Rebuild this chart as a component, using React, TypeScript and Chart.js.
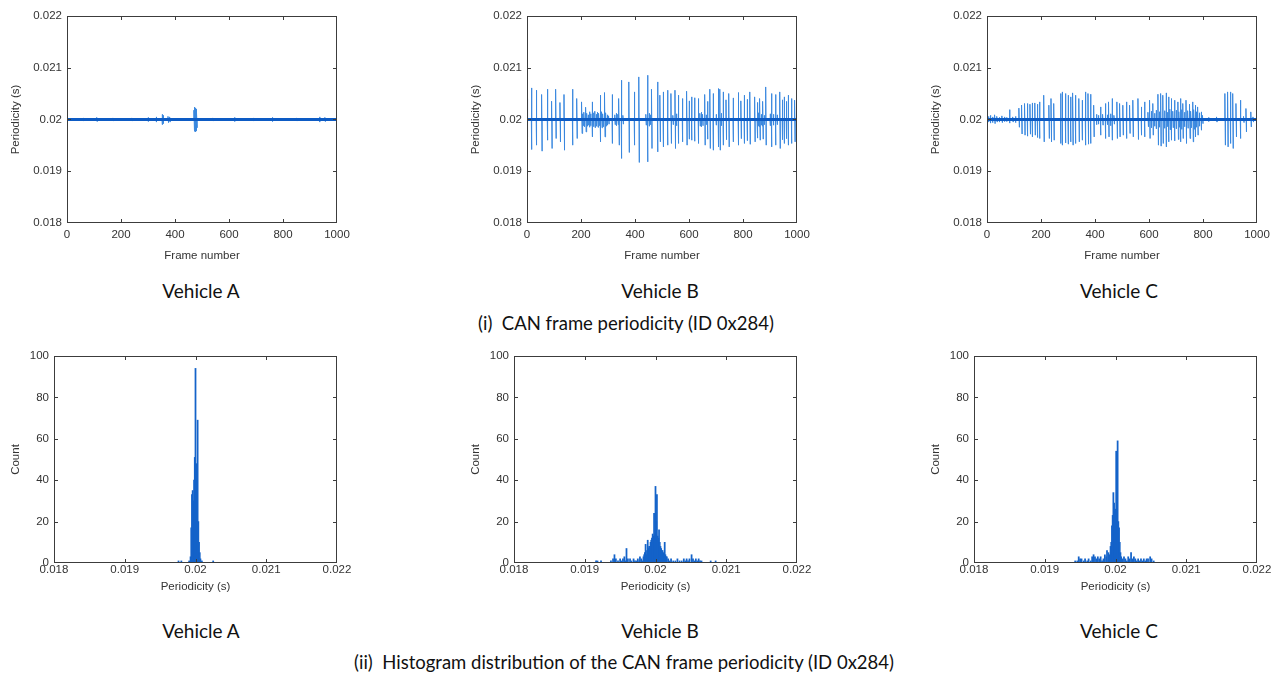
import React, { useEffect, useRef } from 'react';
import { Chart, registerables } from 'chart.js';

Chart.register(...registerables);

// ---------- labels ----------
const vehicleNames = ['Vehicle A', 'Vehicle B', 'Vehicle C'];
const captionTop = '(i)  CAN frame periodicity (ID 0x284)';
const captionBottom = '(ii)  Histogram distribution of the CAN frame periodicity (ID 0x284)';
const frameTickLabels = ['0', '200', '400', '600', '800', '1000'];
const periodTickLabels = ['0.018', '0.019', '0.02', '0.021', '0.022'];
const countTickLabels = ['0', '20', '40', '60', '80', '100'];
const NOMINAL = 0.02;

// ---------- Vehicle A periodicity (frame, high, low) ----------
const aFrames = [60, 110, 170, 240, 300, 330, 352, 356, 374, 380, 470, 472, 475, 478, 480, 540, 620, 690, 760, 850, 935, 955];
const aHigh = [0.02003, 0.02004, 0.02003, 0.02003, 0.02004, 0.02005, 0.0201, 0.02008, 0.02006, 0.02005, 0.02018, 0.02024, 0.02022, 0.0202, 0.02014, 0.02003, 0.02004, 0.02003, 0.02004, 0.02003, 0.02005, 0.02004];
const aLow = [0.01997, 0.01996, 0.01997, 0.01997, 0.01996, 0.01995, 0.0199, 0.01992, 0.01994, 0.01995, 0.0198, 0.01977, 0.01976, 0.01978, 0.01984, 0.01997, 0.01996, 0.01997, 0.01996, 0.01997, 0.01995, 0.01996];

// ---------- Vehicle B periodicity ----------
const bFrames = [1, 16, 34, 54, 75, 91, 106, 122, 137, 168, 184, 202, 217, 241, 271, 287, 315, 340, 349, 377, 397, 414, 446, 461, 483,
  492, 504, 520, 533, 548, 560, 575, 591, 600, 609, 620, 634, 658, 668, 677, 689, 708, 714, 726, 737, 747, 763, 782, 792, 804, 815, 825, 843, 852, 862, 873, 884, 905, 920, 936, 945, 952, 960, 967, 979, 991, 997];
const bHigh = [0.020405, 0.02061, 0.020566, 0.020483, 0.020585, 0.020353, 0.020585, 0.020328, 0.020483, 0.020585, 0.020405, 0.02034, 0.020237, 0.02034, 0.02047, 0.020521, 0.020483, 0.020405, 0.020759, 0.020726, 0.020533, 0.020823, 0.020855, 0.020585, 0.020726,
  0.02047, 0.020533, 0.020566, 0.020502, 0.020566, 0.02047, 0.020405, 0.020546, 0.02036, 0.020437, 0.02042, 0.020405, 0.020483, 0.02035, 0.020585, 0.020502, 0.020598, 0.020585, 0.020533, 0.02038, 0.020502, 0.020417, 0.020521, 0.02036, 0.02047, 0.02039, 0.020533, 0.020437, 0.02033, 0.020405, 0.02035, 0.020629, 0.020502, 0.020483, 0.020533, 0.02038, 0.020437, 0.02035, 0.02047, 0.020405, 0.020373, 0.02047];
const bLow = [0.019664, 0.01942, 0.019504, 0.019388, 0.0196, 0.01944, 0.019633, 0.019568, 0.019407, 0.019504, 0.019633, 0.01973, 0.01976, 0.019664, 0.019568, 0.019664, 0.019537, 0.019504, 0.019247, 0.019363, 0.019504, 0.01917, 0.019182, 0.01944, 0.019375,
  0.019568, 0.019471, 0.019504, 0.019537, 0.01944, 0.019537, 0.019568, 0.019504, 0.01962, 0.0196, 0.01958, 0.019537, 0.019504, 0.01962, 0.01944, 0.019407, 0.019471, 0.019407, 0.019504, 0.01961, 0.019471, 0.019568, 0.019504, 0.01963, 0.019537, 0.01959, 0.019521, 0.019568, 0.01964, 0.0196, 0.01962, 0.019504, 0.019471, 0.019504, 0.01944, 0.01961, 0.019537, 0.01963, 0.019504, 0.019537, 0.019568, 0.0196];
const bNoiseFrames = [207, 211, 222, 226, 231, 235, 246, 251, 256, 261, 266, 276, 281, 292, 297, 302, 325, 330, 336, 355, 440, 452, 456, 540, 553, 640, 645, 650, 663, 700, 719, 855, 858, 867, 871, 878, 900, 912, 926];
const bNoiseHigh = [0.02011, 0.02014, 0.02012, 0.02009, 0.02015, 0.02011, 0.02013, 0.02016, 0.0201, 0.02014, 0.02012, 0.02015, 0.02011, 0.02013, 0.02009, 0.02007, 0.02009, 0.02012, 0.0201, 0.02008, 0.0201, 0.02012, 0.02009, 0.02008, 0.02011, 0.02012, 0.02014, 0.0201, 0.02009, 0.0201, 0.02012, 0.02011, 0.02013, 0.0201, 0.02012, 0.02008, 0.02011, 0.0201, 0.02009];
const bNoiseLow = [0.01988, 0.01986, 0.01987, 0.01989, 0.01985, 0.01988, 0.01986, 0.01984, 0.01987, 0.01985, 0.01988, 0.01984, 0.01986, 0.01987, 0.01989, 0.01991, 0.0199, 0.01988, 0.0199, 0.01991, 0.01989, 0.01987, 0.0199, 0.0199, 0.01988, 0.01987, 0.01986, 0.01988, 0.0199, 0.01989, 0.01988, 0.01988, 0.01986, 0.01989, 0.01987, 0.0199, 0.01988, 0.01989, 0.0199];

// ---------- Vehicle C periodicity ----------
const cFrames = [118, 128, 139, 149, 159, 167, 177, 186, 194, 210, 229, 237, 247, 272, 278, 290, 300, 309, 317, 327, 340, 352, 364, 374, 383, 395, 420, 438, 450, 463, 481,
  491, 503, 516, 528, 540, 559, 571, 583, 602, 614, 633, 643, 651, 663, 672, 682, 694, 707, 716, 725, 737, 750, 762, 771, 780, 793, 881, 891, 901, 910, 922, 938, 959, 977];
const cHigh = [0.02022, 0.02028, 0.020309, 0.020309, 0.020295, 0.02032, 0.02032, 0.020295, 0.02034, 0.020469, 0.020276, 0.020405, 0.020309, 0.020502, 0.020533, 0.020502, 0.020469, 0.020437, 0.020514, 0.020469, 0.020405, 0.020373, 0.020533, 0.020502, 0.020488, 0.020276, 0.020243, 0.020309, 0.02034, 0.020405, 0.02034,
  0.020309, 0.020276, 0.02034, 0.020276, 0.020373, 0.020405, 0.020243, 0.02034, 0.020373, 0.020309, 0.020488, 0.020502, 0.020469, 0.020514, 0.020437, 0.020405, 0.020373, 0.02034, 0.020405, 0.020309, 0.020373, 0.020295, 0.02034, 0.020276, 0.020243, 0.020147, 0.020502, 0.020533, 0.020533, 0.020502, 0.020309, 0.020373, 0.020212, 0.020147];
const cLow = [0.01985, 0.01972, 0.019697, 0.019678, 0.019716, 0.019664, 0.019697, 0.019652, 0.019633, 0.019568, 0.019633, 0.019568, 0.0196, 0.019537, 0.019504, 0.019548, 0.019523, 0.019568, 0.019504, 0.019537, 0.019568, 0.0196, 0.019504, 0.019523, 0.019537, 0.019664, 0.019697, 0.019633, 0.019664, 0.0196, 0.019633,
  0.019664, 0.019697, 0.019633, 0.01973, 0.019664, 0.019614, 0.019697, 0.019664, 0.019633, 0.019697, 0.019504, 0.019485, 0.019537, 0.019471, 0.019568, 0.0196, 0.019587, 0.019614, 0.019568, 0.019633, 0.019537, 0.019633, 0.019568, 0.019664, 0.019697, 0.019793, 0.019504, 0.019471, 0.019537, 0.01944, 0.019664, 0.019633, 0.019761, 0.019857];
const cNoiseFrames = [5, 12, 20, 28, 36, 45, 55, 64, 72, 83, 95, 105, 405, 412, 428, 445, 457, 470, 596, 608, 620, 626, 638, 657, 668, 677, 688, 700, 711, 720, 731, 743, 755, 766, 775, 786, 798, 820, 850, 950, 985];
const cNoiseHigh = [0.02006, 0.02008, 0.02005, 0.02009, 0.02006, 0.02004, 0.02007, 0.02005, 0.02004, 0.02019, 0.02005, 0.02006, 0.0201, 0.02008, 0.0201, 0.02009, 0.02011, 0.02008, 0.02014, 0.02016, 0.02012, 0.02018, 0.02015, 0.02017, 0.02014, 0.0202, 0.02016, 0.02018, 0.02015, 0.02019, 0.02014, 0.02017, 0.02016, 0.02019, 0.02015, 0.02013, 0.02008, 0.02004, 0.02005, 0.02006, 0.02005];
const cNoiseLow = [0.01995, 0.01993, 0.01994, 0.01992, 0.01995, 0.01995, 0.01994, 0.01996, 0.01996, 0.01993, 0.01995, 0.01994, 0.0199, 0.01991, 0.01989, 0.0199, 0.01988, 0.01991, 0.01986, 0.01984, 0.01987, 0.01982, 0.01985, 0.01983, 0.01986, 0.0198, 0.01984, 0.01982, 0.01985, 0.01981, 0.01986, 0.01983, 0.01984, 0.01981, 0.01985, 0.01987, 0.01992, 0.01996, 0.01995, 0.01994, 0.01995];

// ---------- Histograms (bin centre in s, count) ----------
const aHistBins = [0.01976, 0.0198, 0.01991, 0.01993, 0.01994, 0.01995, 0.01996, 0.01997, 0.01998, 0.01999, 0.02, 0.02001, 0.02002, 0.02003, 0.02004, 0.02005, 0.02006, 0.02007, 0.02009, 0.02025];
const aHistCounts = [1, 1, 1, 3, 17, 33, 35, 30, 40, 51, 94, 48, 45, 69, 20, 10, 5, 2, 1, 1];

const bHistBins = [0.01916, 0.01918, 0.01923, 0.01937, 0.0194, 0.01942, 0.01944, 0.01947, 0.0195, 0.01952, 0.01954, 0.01956, 0.01958, 0.01959, 0.01961, 0.01964, 0.01966, 0.01969, 0.01971, 0.01973, 0.01975, 0.01977, 0.01978, 0.0198, 0.01982, 0.01983, 0.01984, 0.01985, 0.01986, 0.01987, 0.01988, 0.01989, 0.0199, 0.01991, 0.01992, 0.01993, 0.01994, 0.01995, 0.01996, 0.01997, 0.01998, 0.01999, 0.02, 0.02001, 0.02002, 0.02003, 0.02004, 0.02005, 0.02006, 0.02007, 0.02008, 0.02009, 0.0201, 0.02011, 0.02012, 0.02013, 0.02014, 0.02015, 0.02016, 0.02018, 0.0202, 0.02022, 0.02025, 0.02028, 0.02031, 0.02034, 0.02037, 0.0204, 0.02042, 0.02044, 0.02046, 0.02048, 0.02051, 0.02053, 0.02055, 0.02057, 0.02059, 0.02061, 0.02063, 0.02065, 0.02078, 0.02085];
const bHistCounts = [1, 1, 1, 1, 2, 4, 2, 1, 2, 1, 2, 3, 1, 7, 2, 2, 1, 2, 1, 1, 2, 1, 3, 2, 1, 3, 4, 5, 9, 4, 6, 11, 7, 8, 8, 10, 11, 12, 14, 13, 24, 13, 37, 20, 33, 13, 12, 16, 10, 8, 7, 6, 6, 5, 4, 10, 4, 3, 3, 2, 1, 2, 1, 1, 2, 1, 1, 2, 1, 2, 1, 2, 4, 2, 1, 2, 1, 2, 1, 1, 1, 1];

const cHistBins = [0.01943, 0.01946, 0.01948, 0.0195, 0.01952, 0.01955, 0.01957, 0.0196, 0.01962, 0.01965, 0.01967, 0.01969, 0.01971, 0.01973, 0.01975, 0.01977, 0.01979, 0.01981, 0.01983, 0.01985, 0.01987, 0.01988, 0.0199, 0.01991, 0.01993, 0.01994, 0.01995, 0.01996, 0.01997, 0.01998, 0.01999, 0.02, 0.02001, 0.02002, 0.02003, 0.02004, 0.02005, 0.02006, 0.02007, 0.02008, 0.0201, 0.02012, 0.02014, 0.02016, 0.02018, 0.0202, 0.02022, 0.02024, 0.02026, 0.02028, 0.0203, 0.02032, 0.02034, 0.02036, 0.02038, 0.0204, 0.02042, 0.02044, 0.02046, 0.02049, 0.02051, 0.02054];
const cHistCounts = [1, 1, 3, 2, 2, 1, 2, 1, 2, 1, 3, 4, 3, 2, 3, 2, 3, 1, 2, 4, 3, 6, 5, 4, 8, 10, 18, 23, 34, 29, 25, 26, 54, 25, 59, 20, 17, 10, 5, 3, 2, 3, 2, 1, 3, 2, 5, 2, 3, 2, 1, 2, 1, 2, 1, 2, 1, 2, 2, 3, 2, 1];

// ---------- styling ----------
const FONT = "'Liberation Sans', Arial, Helvetica, sans-serif";
const AXIS = '#3c3c3c';
const TEXT = '#333333';
const BAND = '#0d5bc4';
const SPIKE = '#3a88df';
const BAR = '#1463c9';

const framePlugin = {
  id: 'frameBox',
  afterDatasetsDraw(chart: any) {
    const { ctx, chartArea } = chart;
    const { left, right, top, bottom } = chartArea;
    const xs = chart.scales.x;
    const ys = chart.scales.y;
    const len = 4;
    ctx.save();
    ctx.strokeStyle = AXIS;
    ctx.lineWidth = 1;
    ctx.beginPath();
    xs.ticks.forEach((t: any) => {
      const p = Math.round(xs.getPixelForValue(t.value)) + 0.5;
      if (p <= left + 1 || p >= right - 1) return;
      ctx.moveTo(p, bottom); ctx.lineTo(p, bottom - len);
      ctx.moveTo(p, top); ctx.lineTo(p, top + len);
    });
    ys.ticks.forEach((t: any) => {
      const p = Math.round(ys.getPixelForValue(t.value)) + 0.5;
      if (p <= top + 1 || p >= bottom - 1) return;
      ctx.moveTo(left, p); ctx.lineTo(left + len, p);
      ctx.moveTo(right, p); ctx.lineTo(right - len, p);
    });
    ctx.stroke();
    ctx.strokeRect(left + 0.5, top + 0.5, right - left - 1, bottom - top - 1);
    ctx.restore();
  },
};

function buildTrace(frames: number[], highs: number[], lows: number[], nf: number[], nh: number[], nl: number[]) {
  const items = frames.map((f, i) => ({ f, h: highs[i], l: lows[i] }))
    .concat(nf.map((f, i) => ({ f, h: nh[i], l: nl[i] })))
    .sort((a, b) => a.f - b.f);
  const x0 = parseFloat(frameTickLabels[0]);
  const x1 = parseFloat(frameTickLabels[frameTickLabels.length - 1]);
  const pts: { x: number; y: number }[] = [{ x: x0, y: NOMINAL }];
  items.forEach((it) => {
    pts.push({ x: it.f, y: NOMINAL }, { x: it.f, y: it.h }, { x: it.f + 2, y: it.l }, { x: it.f + 2, y: NOMINAL });
  });
  pts.push({ x: x1, y: NOMINAL });
  return pts;
}

function fixedTicks(labels: string[]) {
  return (scale: any) => {
    scale.ticks = labels.map((l) => ({ value: parseFloat(l) }));
  };
}

function axisOptions(labels: string[], title: string, size: number, horizontal: boolean, tickPad: number, titlePad: any) {
  return {
    type: 'linear',
    min: parseFloat(labels[0]),
    max: parseFloat(labels[labels.length - 1]),
    offset: false,
    afterBuildTicks: fixedTicks(labels),
    afterFit: (s: any) => {
      if (horizontal) s.height = size; else s.width = size;
      s.paddingLeft = 0; s.paddingRight = 0; s.paddingTop = 0; s.paddingBottom = 0;
    },
    grid: { display: false, drawTicks: false, offset: false },
    border: { display: false },
    ticks: {
      padding: tickPad,
      color: TEXT,
      maxRotation: 0,
      autoSkip: false,
      font: { family: FONT, size: 11.5, lineHeight: horizontal ? 1.0 : 1.2 },
      callback: (_v: any, i: number) => labels[i],
    },
    title: {
      display: true,
      text: title,
      color: TEXT,
      font: { family: FONT, size: 11.5, lineHeight: 1.2 },
      padding: titlePad,
    },
  };
}

function lineConfig(frames: number[], highs: number[], lows: number[], nf: number[], nh: number[], nl: number[]) {
  const x0 = parseFloat(frameTickLabels[0]);
  const x1 = parseFloat(frameTickLabels[frameTickLabels.length - 1]);
  return {
    type: 'line',
    data: {
      datasets: [
        { label: 'band', data: [{ x: x0, y: NOMINAL }, { x: x1, y: NOMINAL }], borderColor: BAND, borderWidth: 3, pointRadius: 0 },
        { label: 'periodicity', data: buildTrace(frames, highs, lows, nf, nh, nl), borderColor: SPIKE, borderWidth: 1, pointRadius: 0, tension: 0 },
      ],
    },
    options: {
      animation: false,
      responsive: false,
      events: [],
      layout: { autoPadding: false, padding: { top: 16, right: 28, left: 0, bottom: 0 } },
      plugins: { legend: { display: false }, tooltip: { enabled: false } },
      scales: {
        x: axisOptions(frameTickLabels, 'Frame number', 47, true, 6, { bottom: 7.2, top: 0 }),
        y: axisOptions(periodTickLabels, 'Periodicity (s)', 67, false, 5, { top: 9.2, bottom: 0 }),
      },
    },
    plugins: [framePlugin],
  };
}

function histConfig(bins: number[], counts: number[]) {
  return {
    type: 'bar',
    data: {
      datasets: [
        { label: 'count', data: bins.map((b, i) => ({ x: b, y: counts[i] })), backgroundColor: BAR, borderWidth: 0, barThickness: 1.1 },
      ],
    },
    options: {
      animation: false,
      responsive: false,
      events: [],
      layout: { autoPadding: false, padding: { top: 16, right: 28, left: 0, bottom: 0 } },
      plugins: { legend: { display: false }, tooltip: { enabled: false } },
      scales: {
        x: axisOptions(periodTickLabels, 'Periodicity (s)', 47, true, 1, { bottom: 16, top: 0 }),
        y: axisOptions(countTickLabels, 'Count', 54, false, 5, { top: 9.2, bottom: 0 }),
      },
    },
    plugins: [framePlugin],
  };
}

function ChartPanel({ make, left, top }: { make: () => any; left: number; top: number }) {
  const ref = useRef<HTMLCanvasElement>(null);
  useEffect(() => {
    const chart = new Chart(ref.current as HTMLCanvasElement, make());
    return () => chart.destroy();
  }, []);
  return <canvas ref={ref} width={365} height={270} style={{ position: 'absolute', left, top, width: 365, height: 270 }} />;
}

const capStyle = (x: number, y: number, size: number): React.CSSProperties => ({
  position: 'absolute', left: x, top: y, transform: 'translate(-50%, -50%)', whiteSpace: 'pre',
  fontFamily: "Lato, 'Open Sans', sans-serif", fontSize: size, color: '#111111', lineHeight: 1,
});

export default function App() {
  const lefts = [0, 460, 920];
  const capX = [201, 660, 1119];
  const tops = [
    () => lineConfig(aFrames, aHigh, aLow, [], [], []),
    () => lineConfig(bFrames, bHigh, bLow, bNoiseFrames, bNoiseHigh, bNoiseLow),
    () => lineConfig(cFrames, cHigh, cLow, cNoiseFrames, cNoiseHigh, cNoiseLow),
  ];
  const bottoms = [
    () => histConfig(aHistBins, aHistCounts),
    () => histConfig(bHistBins, bHistCounts),
    () => histConfig(cHistBins, cHistCounts),
  ];
  return (
    <div style={{ position: 'absolute', left: 0, top: 0, width: 1285, height: 673, background: '#fff', overflow: 'hidden' }}>
      {tops.map((m, i) => <ChartPanel key={'t' + i} make={m} left={lefts[i]} top={0} />)}
      {bottoms.map((m, i) => <ChartPanel key={'b' + i} make={m} left={lefts[i]} top={340} />)}
      {vehicleNames.map((n, i) => <div key={'vt' + i} style={capStyle(capX[i], 290, 19)}>{n}</div>)}
      {vehicleNames.map((n, i) => <div key={'vb' + i} style={capStyle(capX[i], 630, 19)}>{n}</div>)}
      <div style={capStyle(626, 323, 18.5)}>{captionTop}</div>
      <div style={capStyle(624, 662, 18.5)}>{captionBottom}</div>
    </div>
  );
}
